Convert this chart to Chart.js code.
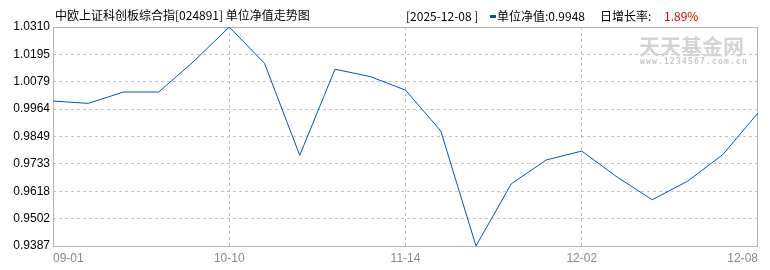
<!DOCTYPE html>
<html>
<head>
<meta charset="utf-8">
<script src="https://cdn.jsdelivr.net/npm/chart.js@4.4.0/dist/chart.umd.min.js"></script>
<style>
  body { margin: 0; background: #fff; }
</style>
</head>
<body>
<canvas id="navChart" width="770" height="270"></canvas>
<script>
// data
const dates = ['09-01','09-05','09-12','09-19','09-26','10-10','10-17','10-24','10-31','11-07',
               '11-14','11-21','11-24','11-26','11-28','12-02','12-03','12-04','12-05','12-06','12-08'];
const nav = [0.9998, 0.9988, 1.0036, 1.0036, 1.0166, 1.0310, 1.0157, 0.9769, 1.0132, 1.0101,
             1.0044, 0.9872, 0.9387, 0.9649, 0.9750, 0.9787, 0.9678, 0.9582, 0.9660, 0.9772, 0.9948];
const xTickIdx = [0, 5, 10, 15, 20];
const yTicks = ['0.9387','0.9502','0.9618','0.9733','0.9849','0.9964','1.0079','1.0195','1.0310'];

const title = '中欧上证科创板综合指[024891] 单位净值走势图';
const lastDate = '[2025-12-08 ]';
const lastNav = '单位净值:0.9948';
const dayLabel = '日增长率:';
const dayRate = '1.89%';

const cjk = '"Noto Sans CJK SC", sans-serif';
const gridCol = '#c4c4c4';
const frameCol = '#b4b4b4';
const lineCol = 'rgb(0,88,170)';

// frame, watermark and header texts
const decor = {
  id: 'decor',
  beforeDatasetsDraw(chart) {
    const c = chart.ctx, a = chart.chartArea;
    c.save();
    c.strokeStyle = frameCol;
    c.lineWidth = 1;
    c.strokeRect(a.left + 0.5, a.top + 0.5, a.right - a.left - 1, a.bottom - a.top);
    // watermark
    c.fillStyle = '#d4d4d4';
    c.font = 'bold 21px ' + cjk;
    c.textBaseline = 'middle';
    c.textAlign = 'left';
    c.fillText('天天基金网', 639, 46);
    c.font = 'bold 8px "DejaVu Sans Mono", monospace';
    c.fillStyle = '#c8c8c8';
    const url = 'www.1234567.com.cn';
    for (let i = 0; i < url.length; i++) c.fillText(url[i], 640 + i * 6, 62);
    c.restore();
  },
  afterDraw(chart) {
    const c = chart.ctx;
    c.save();
    c.textBaseline = 'middle';
    c.textAlign = 'left';
    c.font = '12px ' + cjk;
    c.fillStyle = '#000';
    c.fillText(title, 55, 15);
    c.fillText(lastDate, 406, 16);
    c.fillStyle = '#0a4fa0';
    c.fillRect(490, 15, 6, 3);
    c.fillStyle = '#000';
    c.fillText(lastNav, 497, 16);
    c.fillText(dayLabel, 600, 16);
    c.fillStyle = '#e00000';
    c.fillText(dayRate, 664, 16);
    c.restore();
  }
};

new Chart(document.getElementById('navChart').getContext('2d'), {
  type: 'line',
  data: {
    labels: dates,
    datasets: [{
      label: '单位净值',
      data: nav,
      borderColor: lineCol,
      borderWidth: 1,
      pointRadius: 0,
      tension: 0,
      fill: false
    }]
  },
  options: {
    responsive: false,
    animation: false,
    layout: { padding: { top: 27, right: 12, left: 0, bottom: 0 } },
    plugins: { legend: { display: false }, tooltip: { enabled: false } },
    scales: {
      x: {
        offset: false,
        afterBuildTicks(scale) {
          scale.ticks = scale.ticks.filter(t => xTickIdx.includes(t.value));
        },
        afterFit(scale) { scale.height = 24; },
        grid: {
          drawTicks: false,
          color: ctx => (ctx.tick && (ctx.tick.value === 0 || ctx.tick.value === dates.length - 1)) ? 'rgba(0,0,0,0)' : gridCol
        },
        border: { display: false, dash: [3, 3] },
        ticks: {
          autoSkip: false,
          maxRotation: 0,
          align: 'inner',
          padding: 5,
          color: '#888',
          font: { family: '"Liberation Sans", sans-serif', size: 12 }
        }
      },
      y: {
        min: parseFloat(yTicks[0]),
        max: parseFloat(yTicks[yTicks.length - 1]),
        afterBuildTicks(scale) {
          scale.ticks = yTicks.map(v => ({ value: parseFloat(v) }));
        },
        afterFit(scale) { scale.width = 53; },
        grid: {
          drawTicks: false,
          color: ctx => (ctx.index === 0 || ctx.index === yTicks.length - 1) ? 'rgba(0,0,0,0)' : gridCol
        },
        border: { display: false, dash: [3, 3] },
        ticks: {
          padding: 3,
          color: '#000',
          font: { family: '"Liberation Sans", sans-serif', size: 12 },
          callback: (v, i) => yTicks[i]
        }
      }
    }
  },
  plugins: [decor]
});
</script>
</body>
</html>
